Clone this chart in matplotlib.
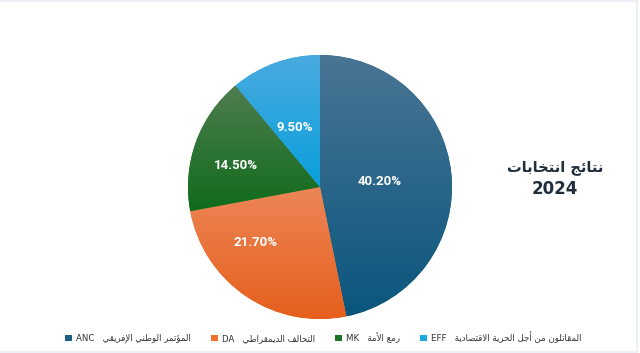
import numpy as np
import matplotlib
matplotlib.use("Agg")
import matplotlib.pyplot as plt
from matplotlib.patches import Patch, Rectangle
from matplotlib.colors import to_rgb

# data
parties = ["ANC", "DA", "MK", "EFF"]
names_ar = ["المؤتمر الوطني الإفريقي", "التحالف الديمقراطي", "رمع الأمة",
            "المقاتلون من أجل الحرية الاقتصادية"]
shares = [40.2, 21.7, 14.5, 9.5]
title_ar = "نتائج انتخابات"
title_year = "2024"

# style
top_cols = ["#4a7594", "#ed8657", "#4f7d50", "#4aabe0"]
bot_cols = ["#0a567d", "#e55f1c", "#106b1b", "#0a9fdc"]
legend_cols = ["#1c5f84", "#f07030", "#1d7325", "#1ea6e0"]
label_xy = [(0.455, 0.045), (-0.49, -0.42), (-0.64, 0.16), (-0.19, 0.45)]

# small arabic shaper (matplotlib has no shaping / bidi)
DUAL = {'ب': 0xFE8F, 'ت': 0xFE95, 'ث': 0xFE99, 'ج': 0xFE9D, 'ح': 0xFEA1, 'خ': 0xFEA5,
        'س': 0xFEB1, 'ش': 0xFEB5, 'ص': 0xFEB9, 'ض': 0xFEBD, 'ط': 0xFEC1, 'ظ': 0xFEC5,
        'ع': 0xFEC9, 'غ': 0xFECD, 'ف': 0xFED1, 'ق': 0xFED5, 'ك': 0xFED9, 'ل': 0xFEDD,
        'م': 0xFEE1, 'ن': 0xFEE5, 'ه': 0xFEE9, 'ي': 0xFEF1, 'ئ': 0xFE89}
RIGHT = {'ا': 0xFE8D, 'أ': 0xFE83, 'إ': 0xFE87, 'ؤ': 0xFE85, 'د': 0xFEA9, 'ذ': 0xFEAB,
         'ر': 0xFEAD, 'ز': 0xFEAF, 'و': 0xFEED, 'ة': 0xFE93}
LAMALEF = {'ا': 0xFEFB, 'أ': 0xFEF7, 'إ': 0xFEF9}


def shape(s):
    out = []
    i = 0
    while i < len(s):
        c = s[i]
        prev = s[i - 1] if i > 0 else None
        nxt = s[i + 1] if i + 1 < len(s) else None
        p = prev in DUAL
        if c == 'ل' and nxt in LAMALEF:
            out.append(chr(LAMALEF[nxt] + (1 if p else 0)))
            i += 2
            continue
        if c in DUAL:
            n = nxt in DUAL or nxt in RIGHT
            form = 3 if (p and n) else 1 if p else 2 if n else 0
            out.append(chr(DUAL[c] + form))
        elif c in RIGHT:
            out.append(chr(RIGHT[c] + (1 if p else 0)))
        else:
            out.append(c)
        i += 1
    return "".join(reversed(out))


fig = plt.figure(figsize=(6.4, 3.53), dpi=100)
fig.patches.append(Rectangle((-0.01, 0.004), 1.006, 0.994, transform=fig.transFigure,
                             fill=False, edgecolor="#e9eef6", linewidth=1.2))

ax = fig.add_axes([0.29375, 0.0963, 0.4125, 0.7479])
wedges, _ = ax.pie(shares, startangle=90, counterclock=False, radius=1,
                   colors=legend_cols, wedgeprops=dict(linewidth=0))

for w, t, b in zip(wedges, top_cols, bot_cols):
    ys = w.get_path().vertices[:, 1]
    y0, y1 = ys.min(), ys.max()
    frac = np.linspace(0, 1, 256)[:, None]
    grad = (1 - frac) * np.array(to_rgb(t)) + frac * np.array(to_rgb(b))
    img = ax.imshow(grad[:, None, :].repeat(2, axis=1), extent=(-1.05, 1.05, y0, y1),
                    origin="upper", aspect="auto", zorder=w.get_zorder() + 0.1,
                    interpolation="bilinear")
    img.set_clip_path(w)

for (x, y), v in zip(label_xy, shares):
    ax.text(x, y, f"{v:.2f}%", ha="center", va="center", color="white",
            fontsize=9.5, fontweight="bold", family=["Roboto", "DejaVu Sans"], zorder=10)

ax.set_xlim(-1, 1)
ax.set_ylim(-1, 1)
ax.set_aspect("equal")
ax.axis("off")

fig.text(0.867, 0.526, shape(title_ar), ha="center", va="center", fontsize=10.5,
         fontweight="bold", color="#1f2d3d", family=["DejaVu Sans"])
fig.text(0.867, 0.465, title_year, ha="center", va="center", fontsize=12,
         fontweight="bold", color="#1f2d3d", family=["DejaVu Sans"])

handles = [Patch(facecolor=c, edgecolor="none") for c in legend_cols]
labels = [f"{p}   {shape(n)}" for p, n in zip(parties, names_ar)]
fig.legend(handles, labels, loc="center", bbox_to_anchor=(0.505, 0.045), ncol=4,
           frameon=False, handlelength=0.8, handleheight=0.8,
           handletextpad=0.5, columnspacing=2.3, labelcolor="#333333",
           prop={"family": ["DejaVu Sans"], "size": 6.2})

fig.savefig("out.png", dpi=100, facecolor="white")
